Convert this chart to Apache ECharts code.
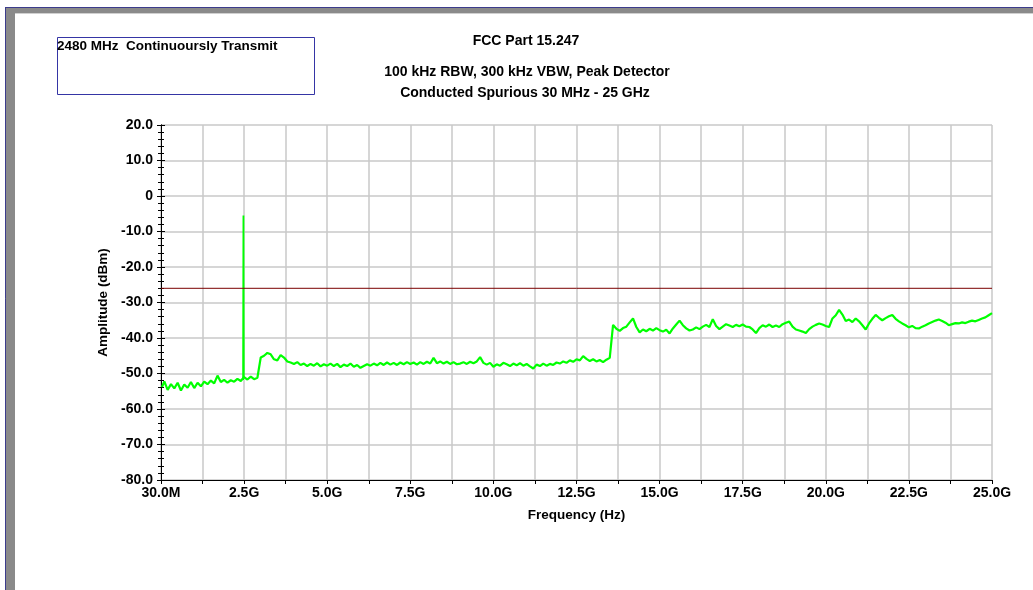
<!DOCTYPE html>
<html>
<head>
<meta charset="utf-8">
<script src="https://cdn.jsdelivr.net/npm/echarts@6/dist/echarts.min.js"></script>
<style>html,body{margin:0;padding:0;background:#fff;}#c{width:1033px;height:590px;}</style>
</head>
<body>
<div id="c"></div>
<script>
// ---- data ----
const titleLines = ['FCC Part 15.247', '100 kHz RBW, 300 kHz VBW, Peak Detector', 'Conducted Spurious 30 MHz - 25 GHz'];
const noteText = '2480 MHz  Continuoursly Transmit';
const xAxisName = 'Frequency (Hz)';
const yAxisName = 'Amplitude (dBm)';
const xTickLabels = ['30.0M','2.5G','5.0G','7.5G','10.0G','12.5G','15.0G','17.5G','20.0G','22.5G','25.0G'];
const limitDbm = -26;
const startMHz = 30, stepMHz = 100;   // sweep: 30 MHz, then every 100 MHz to 25 GHz
const traceDbm = [
 -53.8,-52.2,-54.6,-53.0,-54.2,-52.6,-54.8,-53.1,-54.0,-52.4,
 -54.1,-52.6,-53.6,-52.3,-53.0,-52.0,-52.8,-50.6,-52.4,-51.8,
 -52.6,-51.9,-52.3,-51.5,-52.1,-51.0,-51.7,-50.9,-51.6,-51.2,
 -45.5,-45.0,-44.2,-44.6,-46.0,-46.3,-44.8,-45.5,-46.6,-46.9,
 -47.3,-46.8,-47.6,-47.2,-47.9,-47.3,-47.8,-47.1,-48.0,-47.4,
 -47.8,-47.2,-47.9,-47.3,-48.2,-47.5,-47.9,-47.2,-48.1,-47.6,
 -48.4,-47.9,-47.4,-47.8,-47.2,-47.7,-47.0,-47.6,-46.9,-47.5,
 -47.0,-47.6,-46.9,-47.4,-46.8,-47.3,-46.9,-47.5,-46.8,-47.3,
 -46.7,-47.2,-45.6,-47.1,-46.6,-47.2,-46.7,-47.3,-46.8,-47.4,
 -47.2,-46.8,-47.3,-46.7,-47.1,-46.6,-45.4,-47.0,-47.5,-47.0,
 -48.1,-47.4,-47.8,-47.0,-47.4,-47.9,-47.2,-47.7,-47.1,-47.8,
 -47.3,-48.0,-48.6,-47.5,-47.9,-47.2,-47.8,-47.3,-47.6,-46.9,
 -47.2,-46.6,-47.0,-46.3,-46.7,-46.0,-46.3,-45.1,-45.9,-46.5,
 -46.0,-46.6,-46.2,-46.8,-46.1,-45.6,-36.3,-37.4,-38.0,-37.2,
 -36.8,-35.6,-34.5,-36.9,-38.4,-37.6,-38.1,-37.4,-37.9,-37.2,
 -37.8,-38.2,-37.7,-38.7,-37.3,-36.2,-35.1,-36.4,-37.3,-37.9,
 -37.6,-37.0,-37.5,-36.8,-36.3,-36.9,-34.7,-36.6,-37.5,-36.8,
 -36.1,-36.5,-36.9,-36.3,-36.7,-36.2,-36.8,-36.9,-37.6,-38.6,
 -37.2,-36.4,-36.8,-36.2,-36.9,-36.5,-36.9,-36.1,-35.7,-35.4,
 -36.8,-37.6,-37.9,-38.2,-38.6,-37.5,-36.8,-36.3,-35.9,-36.2,
 -36.6,-36.9,-34.5,-33.6,-32.1,-33.4,-35.2,-34.8,-35.5,-34.5,
 -35.3,-36.4,-37.6,-35.9,-34.6,-33.5,-34.3,-35.0,-34.4,-33.9,
 -33.5,-34.6,-35.3,-35.9,-36.4,-37.0,-36.6,-37.2,-37.3,-36.8,
 -36.4,-35.9,-35.5,-35.1,-34.8,-35.2,-35.7,-36.4,-36.1,-35.8,
 -35.9,-35.6,-35.8,-35.4,-35.1,-35.3,-34.9,-34.5,-34.2,-33.6,
 -33.0
];
const carrierMHz = [2470, 2480, 2490];
const carrierDbm = [-51.8, -5.5, -51.3];

// ---- build ----
const traceData = traceDbm.map((v, i) => [i === 0 ? startMHz : i * stepMHz, v]);
const carrierData = carrierMHz.map((f, i) => [f, carrierDbm[i]]);
const FONT = '"Liberation Sans", Arial, sans-serif';

const chart = echarts.init(document.getElementById('c'), null, {renderer: 'canvas'});
const yBase = {
  type: 'value', min: -80, max: 20, interval: 10, position: 'left',
  axisLine: {show: true, onZero: false, lineStyle: {color: '#000', width: 1}},
  minorTick: {show: true, splitNumber: 5, length: 3, lineStyle: {color: '#000'}},
  minorSplitLine: {show: false}
};
chart.setOption({
  animation: false,
  backgroundColor: '#fff',
  grid: {left: 161, right: 41, top: 125, bottom: 110, containLabel: false},
  xAxis: {
    type: 'value', min: 0, max: 25000, interval: 1250,
    name: xAxisName, nameLocation: 'middle', nameGap: 28,
    nameTextStyle: {fontFamily: FONT, fontWeight: 'bold', fontSize: 13.5, color: '#000'},
    axisLine: {show: true, onZero: false, lineStyle: {color: '#000', width: 1}},
    axisTick: {show: true, inside: false, length: 4, lineStyle: {color: '#000'}},
    axisLabel: {
      margin: 6, fontFamily: FONT, fontWeight: 'bold', fontSize: 14, color: '#000',
      showMinLabel: true, showMaxLabel: true,
      formatter: v => (Math.round(v) % 2500 === 0 ? xTickLabels[Math.round(v / 2500)] : '')
    },
    splitLine: {show: true, lineStyle: {color: '#c8c8c8', width: 1.5}}
  },
  yAxis: [
    Object.assign({}, yBase, {
      name: yAxisName, nameLocation: 'middle', nameGap: 48, nameRotate: 90,
      nameTextStyle: {fontFamily: FONT, fontWeight: 'bold', fontSize: 13.5, color: '#000'},
      axisTick: {show: true, inside: false, length: 4, lineStyle: {color: '#000'}},
      axisLabel: {margin: 8, fontFamily: FONT, fontWeight: 'bold', fontSize: 14, color: '#000',
        formatter: v => (v === 0 ? '0' : v.toFixed(1))},
      splitLine: {show: true, lineStyle: {color: '#c8c8c8', width: 1.5}}
    }),
    Object.assign({}, yBase, {
      axisTick: {show: true, inside: true, length: 4, lineStyle: {color: '#000'}},
      axisLabel: {show: false},
      splitLine: {show: false}
    })
  ],
  series: [
    {type: 'line', data: traceData, showSymbol: false, symbol: 'none', silent: true,
     lineStyle: {color: '#00ff00', width: 2.2}, z: 3},
    {type: 'line', data: carrierData, showSymbol: false, symbol: 'none', silent: true,
     lineStyle: {color: '#00ff00', width: 1.8}, z: 3},
    {type: 'line', data: [[0, limitDbm], [25000, limitDbm]], showSymbol: false, symbol: 'none', silent: true,
     lineStyle: {color: '#7a0000', width: 1}, z: 4}
  ],
  graphic: [
    {type: 'rect', shape: {x: 5, y: 7, width: 1028, height: 7}, style: {fill: '#8a8a8a'}, silent: true},
    {type: 'rect', shape: {x: 5, y: 7, width: 10, height: 583}, style: {fill: '#8a8a8a'}, silent: true},
    {type: 'line', shape: {x1: 5, y1: 7.5, x2: 1033, y2: 7.5}, style: {stroke: '#3c3c8c', lineWidth: 1}, silent: true},
    {type: 'line', shape: {x1: 5.5, y1: 7, x2: 5.5, y2: 590}, style: {stroke: '#3c3c8c', lineWidth: 1}, silent: true},
    {type: 'line', shape: {x1: 15, y1: 13.5, x2: 1033, y2: 13.5}, style: {stroke: '#d0d0d0', lineWidth: 1}, silent: true},
    {type: 'rect', shape: {x: 57.5, y: 37.5, width: 257, height: 57}, style: {fill: 'none', stroke: '#3535a5', lineWidth: 1}, silent: true},
    {type: 'text', x: 57, y: 46, style: {text: noteText, font: 'bold 13.5px ' + FONT, fill: '#000', textVerticalAlign: 'middle'}, silent: true},
    {type: 'text', x: 526, y: 41, style: {text: titleLines[0], font: 'bold 14px ' + FONT, fill: '#000', textAlign: 'center', textVerticalAlign: 'middle'}, silent: true},
    {type: 'text', x: 527, y: 72, style: {text: titleLines[1], font: 'bold 14px ' + FONT, fill: '#000', textAlign: 'center', textVerticalAlign: 'middle'}, silent: true},
    {type: 'text', x: 525, y: 93, style: {text: titleLines[2], font: 'bold 14px ' + FONT, fill: '#000', textAlign: 'center', textVerticalAlign: 'middle'}, silent: true}
  ]
});
</script>
</body>
</html>
